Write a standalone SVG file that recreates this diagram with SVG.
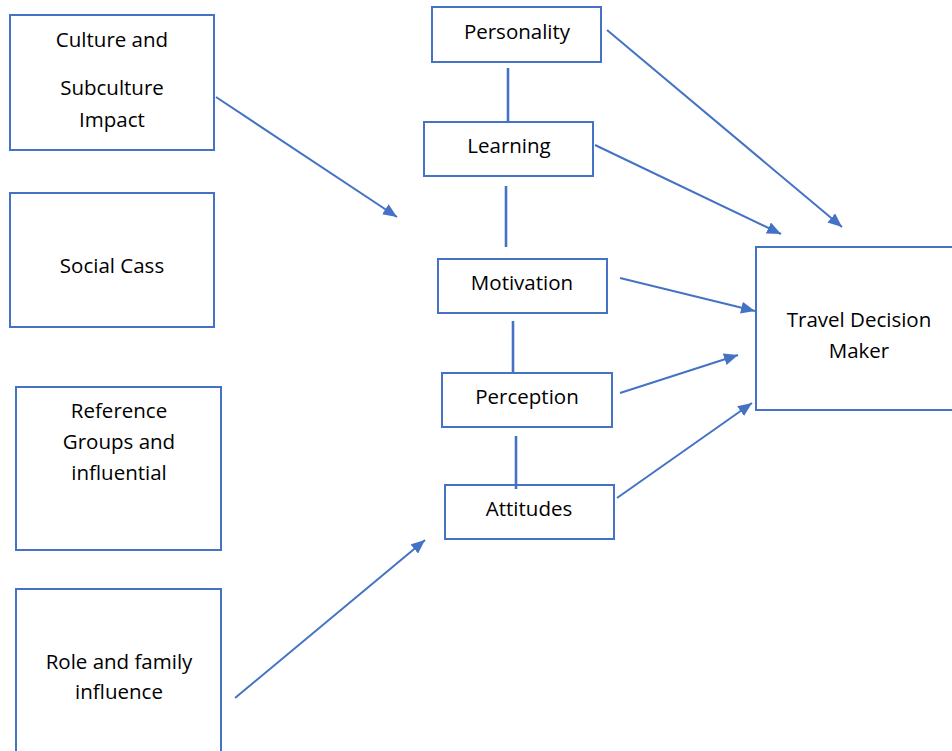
<svg xmlns="http://www.w3.org/2000/svg" width="952" height="751" viewBox="0 0 952 751">
<style>
.box{fill:#fff;stroke:#4472C4;stroke-width:2}
.t{font-family:"Open Sans","Liberation Sans",sans-serif;font-size:20.5px;fill:#000;text-anchor:middle}
.c{stroke:#4472C4;stroke-width:2.6;fill:none}
.a{stroke:#4472C4;stroke-width:2;fill:none;marker-end:url(#ah)}
</style>
<defs>
<marker id="ah" markerUnits="userSpaceOnUse" markerWidth="16" markerHeight="12" refX="14" refY="6" orient="auto">
<path d="M0,0 L14,6 L0,12 Z" fill="#4472C4"/>
</marker>
</defs>
<rect width="952" height="751" fill="#fff"/>
<g id="culture"><rect class="box" x="10" y="15" width="204" height="135"/>
<text class="t" x="112" y="47">Culture and</text><text class="t" x="112" y="95">Subculture</text><text class="t" x="112" y="127">Impact</text></g>
<g id="social"><rect class="box" x="10" y="193" width="204" height="134"/>
<text class="t" x="112" y="273">Social Cass</text></g>
<g id="reference"><rect class="box" x="16" y="387" width="205" height="163"/>
<text class="t" x="119" y="418">Reference</text><text class="t" x="119" y="449">Groups and</text><text class="t" x="119" y="480">influential</text></g>
<g id="role"><rect class="box" x="16" y="589" width="205" height="170"/>
<text class="t" x="119" y="669">Role and family</text><text class="t" x="119" y="699">influence</text></g>
<g id="personality"><rect class="box" x="432" y="7" width="169" height="55"/>
<text class="t" x="517" y="39">Personality</text></g>
<g id="learning"><rect class="box" x="424" y="122" width="169" height="54"/>
<text class="t" x="509" y="153">Learning</text></g>
<g id="motivation"><rect class="box" x="438" y="259" width="169" height="54"/>
<text class="t" x="522" y="290">Motivation</text></g>
<g id="perception"><rect class="box" x="442" y="373" width="170" height="54"/>
<text class="t" x="527" y="404">Perception</text></g>
<g id="attitudes"><rect class="box" x="445" y="485" width="169" height="54"/>
<text class="t" x="529" y="516">Attitudes</text></g>
<g id="travel"><rect class="box" x="756" y="247" width="210" height="163"/>
<text class="t" x="859" y="327">Travel Decision</text><text class="t" x="859" y="358">Maker</text></g>
<g id="connectors">
<line class="c" x1="508" y1="68" x2="508" y2="121"/>
<line class="c" x1="506" y1="186" x2="506" y2="247"/>
<line class="c" x1="513" y1="321" x2="513" y2="373"/>
<line class="c" x1="516" y1="436" x2="516" y2="489"/>
<line class="a" x1="216" y1="97" x2="397" y2="217"/>
<line class="a" x1="235" y1="698" x2="425" y2="540"/>
<line class="a" x1="607" y1="30" x2="842" y2="227"/>
<line class="a" x1="595" y1="145" x2="781" y2="234"/>
<line class="a" x1="620" y1="278" x2="755" y2="311"/>
<line class="a" x1="620" y1="393" x2="738" y2="355"/>
<line class="a" x1="617" y1="498" x2="752" y2="403"/>
</g>
</svg>
